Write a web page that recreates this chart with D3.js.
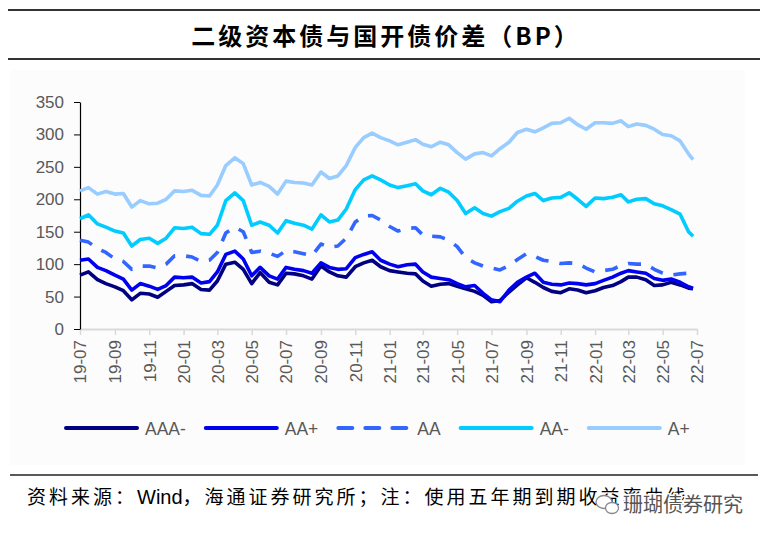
<!DOCTYPE html>
<html>
<head>
<meta charset="utf-8">
<script src="https://cdn.jsdelivr.net/npm/d3@7"></script>
<style>
  body { margin: 0; background: #fff; }
  svg { display: block; }
</style>
</head>
<body>
<div id="chart"></div>
<script>
// Half-month observation dates
const dates = [
  "2019-07-01","2019-07-16","2019-08-01","2019-08-16","2019-09-01","2019-09-16",
  "2019-10-01","2019-10-16","2019-11-01","2019-11-16","2019-12-01","2019-12-16",
  "2020-01-01","2020-01-16","2020-02-01","2020-02-16","2020-03-01","2020-03-16",
  "2020-04-01","2020-04-16","2020-05-01","2020-05-16","2020-06-01","2020-06-16",
  "2020-07-01","2020-07-16","2020-08-01","2020-08-16","2020-09-01","2020-09-16",
  "2020-10-01","2020-10-16","2020-11-01","2020-11-16","2020-12-01","2020-12-16",
  "2021-01-01","2021-01-16","2021-02-01","2021-02-16","2021-03-01","2021-03-16",
  "2021-04-01","2021-04-16","2021-05-01","2021-05-16","2021-06-01","2021-06-16",
  "2021-07-01","2021-07-16","2021-08-01","2021-08-16","2021-09-01","2021-09-16",
  "2021-10-01","2021-10-16","2021-11-01","2021-11-16","2021-12-01","2021-12-16",
  "2022-01-01","2022-01-16","2022-02-01","2022-02-16","2022-03-01","2022-03-16",
  "2022-04-01","2022-04-16","2022-05-01","2022-05-16","2022-06-01","2022-06-16",
  "2022-06-24"
];

// Spreads in BP
const aaaMinus = [
  83,88,76,70,65,59,45,55,54,49,58,67,
  68,70,61,60,74,100,103,92,70,87,72,68,
  86,85,82,77,97,88,82,80,96,102,106,96,
  90,88,86,85,74,66,69,70,66,62,58,52,
  42,44,57,68,79,72,64,58,56,62,60,56,
  59,64,67,73,80,80,76,67,68,72,68,63,
  62
];
const aaPlus = [
  106,108,95,90,83,77,60,70,66,61,67,80,
  79,80,71,73,88,115,120,108,82,95,82,77,
  95,92,90,86,102,95,92,93,110,115,119,106,
  100,96,99,100,88,80,78,76,70,65,67,55,
  45,42,60,72,80,86,72,69,68,71,70,68,
  70,75,80,86,90,88,86,78,75,77,72,65,
  63
];
const aa = [
  137,134,124,118,108,104,92,97,97,94,100,113,
  113,111,104,106,118,148,157,150,118,120,117,112,
  121,119,116,113,131,126,128,140,165,174,175,168,
  158,151,155,156,145,143,142,137,127,110,102,97,
  94,91,98,107,116,112,106,104,101,102,101,94,
  88,90,92,98,101,100,100,92,86,83,85,86,
  null
];
const aaMinus = [
  170,176,162,157,151,148,128,138,140,132,140,156,
  155,157,147,146,160,198,210,198,160,165,160,148,
  167,163,160,154,176,165,168,185,215,230,236,230,
  222,218,221,224,213,207,217,211,198,178,187,178,
  174,181,186,197,205,209,198,202,203,210,200,189,
  202,201,203,207,196,200,201,193,190,184,177,150,
  143
];
const aPlus = [
  213,218,208,212,208,209,188,198,193,194,200,213,
  212,214,206,205,222,252,264,255,222,226,220,208,
  228,226,225,222,242,232,236,252,280,295,302,295,
  290,284,288,292,285,281,288,284,272,262,270,272,
  267,278,288,303,308,304,310,317,318,325,315,308,
  318,318,317,321,312,316,314,308,300,298,290,270,
  261
];

const seriesNames = ["AAA-", "AA+", "AA", "AA-", "A+"];
const yTicks = [0, 50, 100, 150, 200, 250, 300, 350];
const xTickLabels = [
  "19-07","19-09","19-11","20-01","20-03","20-05","20-07","20-09","20-11",
  "21-01","21-03","21-05","21-07","21-09","21-11","22-01","22-03","22-05","22-07"
];

const title = "二级资本债与国开债价差（BP）";
const sourceParts = ["资料来源：", "Wind", "，海通证券研究所；注：使用五年期到期收益率曲线"];
const watermark = "珊瑚债券研究";

const drawSpreadChart = (containerId) => {
    const width = 768;
    const height = 538;
    const plot = { left: 80, right: 697, top: 102, bottom: 329 };

    const parseDay = d3.timeParse("%Y-%m-%d");
    const parseTick = d3.timeParse("%y-%m");
    const days = dates.map(parseDay);

    // Series styling
    const styles = [
        { color: "#000080", dash: null },
        { color: "#0000f0", dash: null },
        { color: "#3366ff", dash: "13,11" },
        { color: "#00ccff", dash: null },
        { color: "#99ccff", dash: null }
    ];
    const values = [aaaMinus, aaPlus, aa, aaMinus, aPlus];
    const series = seriesNames.map((name, i) => ({
        name,
        ...styles[i],
        points: days.map((d, j) => ({ date: d, value: values[i][j] }))
    }));

    const xScale = d3.scaleTime()
        .domain([parseTick("19-07"), parseTick("22-07")])
        .range([plot.left, plot.right]);

    const yScale = d3.scaleLinear()
        .domain([0, 350])
        .range([plot.bottom, plot.top]);

    const svg = d3.select(containerId)
        .append("svg")
        .attr("width", width)
        .attr("height", height)
        .attr("viewBox", `0 0 ${width} ${height}`);

    // Header rules and title
    svg.append("line")
        .attr("x1", 8).attr("x2", 760).attr("y1", 10).attr("y2", 10)
        .attr("stroke", "#333").attr("stroke-width", 2);
    svg.append("line")
        .attr("x1", 8).attr("x2", 760).attr("y1", 59).attr("y2", 59)
        .attr("stroke", "#333").attr("stroke-width", 2);
    svg.append("text")
        .attr("x", 386).attr("y", 45)
        .attr("text-anchor", "middle")
        .style("font-family", "'Noto Sans CJK SC', sans-serif")
        .style("font-size", "24px")
        .style("font-weight", "bold")
        .style("letter-spacing", "3px")
        .attr("fill", "#000")
        .text(title);

    // Faint panel behind the chart
    svg.append("rect")
        .attr("x", 10).attr("y", 70)
        .attr("width", 735).attr("height", 395)
        .attr("fill", "#fcfcfc");

    // X axis
    const xAxis = d3.axisBottom(xScale)
        .tickValues(xTickLabels.map(parseTick))
        .tickFormat(d3.timeFormat("%y-%m"))
        .tickSizeInner(6)
        .tickSizeOuter(0);

    const gx = svg.append("g")
        .attr("transform", `translate(0,${plot.bottom})`)
        .call(xAxis);
    gx.select(".domain").attr("stroke", "#d9d9d9").attr("stroke-width", 2);
    gx.selectAll(".tick line").attr("stroke", "#d9d9d9").attr("stroke-width", 1.5);
    gx.selectAll(".tick text")
        .attr("transform", "rotate(-90)")
        .attr("text-anchor", "end")
        .attr("x", -11)
        .attr("y", 0)
        .attr("dy", "0.35em")
        .attr("fill", "#595959")
        .style("font-family", "'Liberation Sans', Arial, sans-serif")
        .style("font-size", "17px");

    // Y axis
    const yAxis = d3.axisLeft(yScale)
        .tickValues(yTicks)
        .tickSizeInner(6)
        .tickSizeOuter(0)
        .tickPadding(10);

    const gy = svg.append("g")
        .attr("transform", `translate(${plot.left},0)`)
        .call(yAxis);
    gy.select(".domain").attr("stroke", "#000").attr("stroke-width", 1.2);
    gy.selectAll(".tick line").attr("stroke", "#000");
    gy.selectAll(".tick text")
        .attr("fill", "#595959")
        .style("font-family", "'Liberation Sans', Arial, sans-serif")
        .style("font-size", "17px");

    // Lines
    const lineGenerator = d3.line()
        .defined(d => d.value != null)
        .x(d => xScale(d.date))
        .y(d => yScale(d.value));

    svg.append("g")
        .selectAll("path")
        .data(series)
        .join("path")
        .attr("d", d => lineGenerator(d.points))
        .attr("fill", "none")
        .attr("stroke", d => d.color)
        .attr("stroke-width", 3.6)
        .attr("stroke-linejoin", "round")
        .attr("stroke-dasharray", d => d.dash);

    // Legend (narrow lettering, as in the reference)
    const squeeze = 0.92;
    const legend = svg.append("g");
    let lx = 66;
    series.forEach(s => {
        legend.append("line")
            .attr("x1", lx).attr("x2", lx + 71)
            .attr("y1", 428).attr("y2", 428)
            .attr("stroke", s.color)
            .attr("stroke-width", 4)
            .attr("stroke-linecap", "round")
            .attr("stroke-dasharray", s.dash ? "14,13" : null);
        const label = legend.append("text")
            .attr("transform", `translate(${lx + 79},435) scale(${squeeze},1)`)
            .attr("fill", "#595959")
            .style("font-family", "'Liberation Sans', Arial, sans-serif")
            .style("font-size", "19px")
            .text(s.name);
        lx += 79 + label.node().getComputedTextLength() * squeeze + 20;
    });

    // Footer
    svg.append("line")
        .attr("x1", 10).attr("x2", 758).attr("y1", 475).attr("y2", 475)
        .attr("stroke", "#222").attr("stroke-width", 1.5);
    const footer = svg.append("text")
        .attr("x", 27).attr("y", 504)
        .attr("fill", "#000")
        .style("font-family", "'Noto Sans CJK SC', sans-serif")
        .style("font-size", "19px");
    footer.selectAll("tspan")
        .data(sourceParts)
        .join("tspan")
        .style("letter-spacing", (d, i) => i === 1 ? "0px" : "3px")
        .style("font-family", (d, i) => i === 1 ? "'Liberation Sans', Arial, sans-serif" : null)
        .style("font-size", (d, i) => i === 1 ? "20px" : null)
        .text(d => d);

    // Watermark
    const wm = svg.append("g").attr("stroke", "#888").attr("stroke-width", 1.3);
    wm.append("ellipse").attr("cx", 604).attr("cy", 502).attr("rx", 8).attr("ry", 6.5).attr("fill", "#fff");
    wm.append("ellipse").attr("cx", 612).attr("cy", 508).attr("rx", 6.5).attr("ry", 5.5).attr("fill", "#fff");
    svg.append("text")
        .attr("x", 623).attr("y", 512)
        .attr("fill", "#555")
        .attr("stroke", "#fff")
        .attr("stroke-width", 3)
        .style("paint-order", "stroke")
        .style("font-family", "'Noto Sans CJK SC', sans-serif")
        .style("font-size", "20px")
        .text(watermark);
};

drawSpreadChart("#chart");
</script>
</body>
</html>
